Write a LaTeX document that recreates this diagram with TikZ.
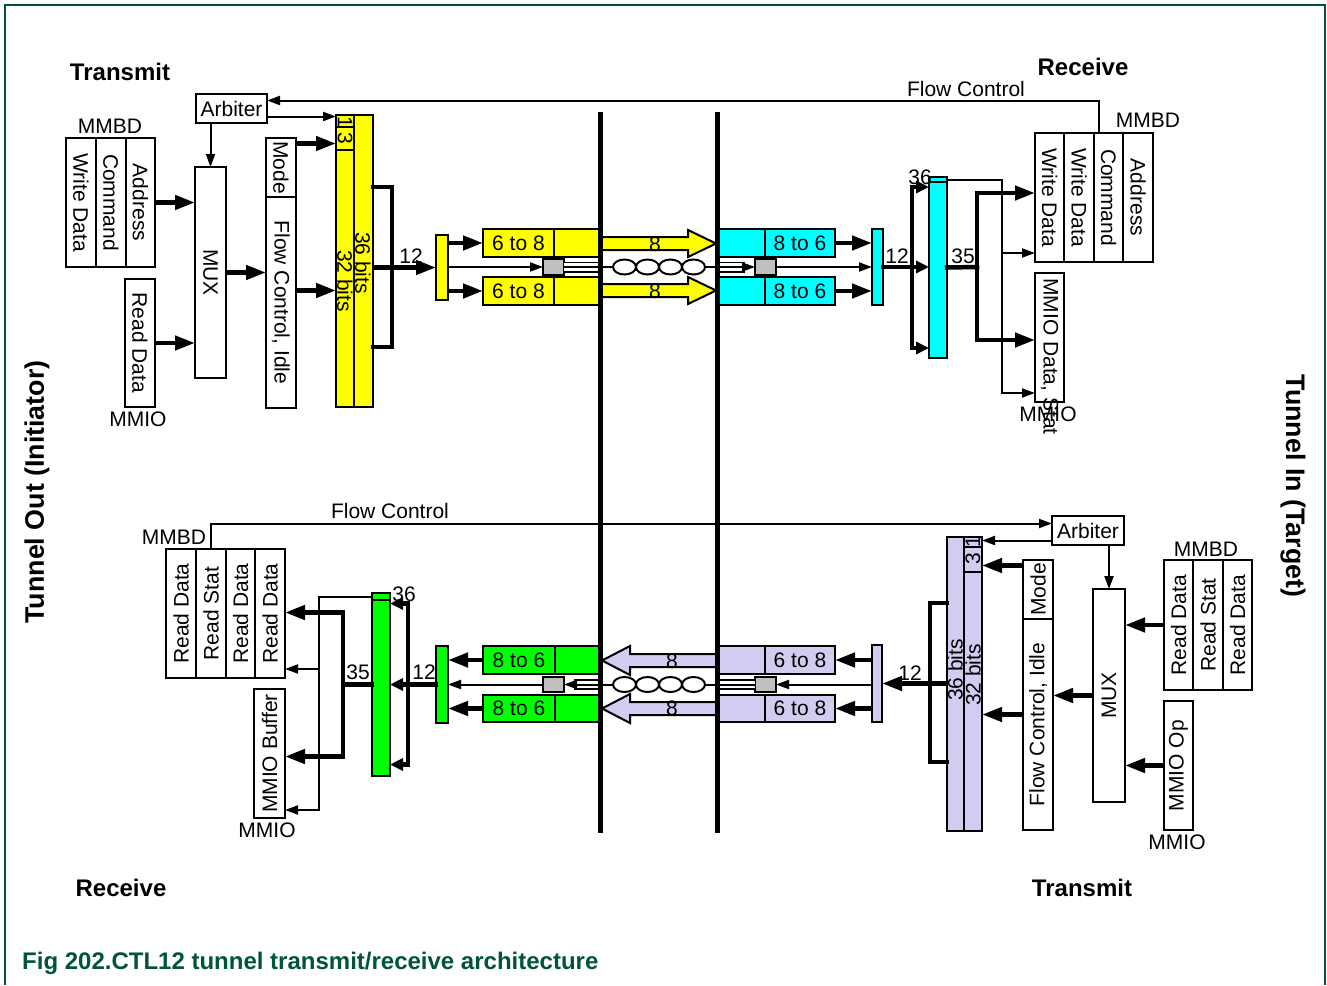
\documentclass[tikz,border=0pt]{standalone}
\usepackage{fontspec}
\setmainfont{Liberation Sans}
\usetikzlibrary{arrows.meta}

\definecolor{figgreen}{RGB}{0,84,60}
\definecolor{txyellow}{RGB}{255,255,0}
\definecolor{rxcyan}{RGB}{0,255,255}
\definecolor{rxgreen}{RGB}{0,255,0}
\definecolor{txlilac}{RGB}{212,204,240}
\definecolor{padgray}{RGB}{192,192,192}

\newcommand\nfont{\fontsize{21}{23}\selectfont}
\newcommand\hfont{\fontsize{24}{26}\selectfont\bfseries}
\newcommand\rotdn[1]{\rotatebox{-90}{#1}}
\newcommand\rotup[1]{\rotatebox{90}{#1}}

\tikzset{
  box/.style={draw, line width=2.2pt, inner sep=0pt, outer sep=0pt, anchor=north west, font=\nfont},
  wh/.style 2 args={minimum width=#1, minimum height=#2},
  lbl/.style={inner sep=0pt, font=\nfont},
  hdr/.style={inner sep=0pt, font=\hfont},
  bus/.style={line width=4.5pt, -{Triangle[length=20pt,width=14pt]}},
  busshort/.style={line width=4.5pt, -{Triangle[length=13pt,width=12pt]}},
  busline/.style={line width=4.5pt, line cap=rect},
  sig/.style={line width=2pt, -{Triangle[length=13pt,width=9pt]}},
  cable/.style={double, double distance=7.8pt, line width=1.6pt},
  lane/.style={line width=2pt},
  twist/.style={line width=2pt, fill=white},
}

\begin{document}
\begin{tikzpicture}[x=1pt, y=-1pt]
\useasboundingbox (0,0) rectangle (1327,985);

\draw[figgreen, line width=1.5pt] (5,985) -- (5,5) -- (1325,5) -- (1325,985);

\node[hdr] at (120,72) {Transmit};
\node[hdr] at (1083,67) {Receive};
\node[hdr] at (121,888) {Receive};
\node[hdr] at (1082,888) {Transmit};
\node[hdr, font=\fontsize{26.8}{28}\selectfont\bfseries, rotate=90] at (37,492) {Tunnel Out (Initiator)};
\node[hdr, font=\fontsize{26.8}{28}\selectfont\bfseries, rotate=-90] at (1293,486) {Tunnel In (Target)};
\node[hdr, text=figgreen, anchor=west] at (22,963) {Fig 202.CTL12 tunnel transmit/receive architecture};

\coordinate (bar-l) at (600,112);
\coordinate (bar-r) at (717,112);

% ---- tunnel out, transmit
\node[box, wh={30}{129}] (otx-wdata) at (66,138) {\rotdn{Write Data}};
\node[box, wh={30}{129}] (otx-cmd) at (96,138) {\rotdn{Command}};
\node[box, wh={29}{129}] (otx-addr) at (126,138) {\rotdn{Address}};
\node[lbl] at (110,126) {MMBD};
\node[box, wh={30}{128}] (otx-rdata) at (125,279) {\rotdn{Read Data}};
\node[lbl] at (138,419) {MMIO};
\node[box, wh={71}{29}] (otx-arb) at (196,94) {Arbiter};
\node[box, wh={31}{211}] (otx-mux) at (195,167) {\rotdn{MUX}};
\node[box, wh={30}{59}] (otx-mode) at (266,138) {\rotdn{Mode}};
\node[box, wh={30}{211}] (otx-flow) at (266,197) {\rotdn{Flow Control, Idle}};

\node[box, fill=txyellow, wh={19}{292}] (otx-r36) at (354,115) {};
\node[box, fill=txyellow, wh={18}{12}] (otx-c1) at (336,115) {};
\node[box, fill=txyellow, wh={18}{23}] (otx-c3) at (336,127) {};
\node[box, fill=txyellow, wh={18}{257}] (otx-r32) at (336,150) {};
\node[lbl, rotate=-90] at (345,122) {1};
\node[lbl, rotate=-90] at (345,138) {3};
\node[lbl, rotate=-90] at (363,263) {36 bits};
\node[lbl, rotate=-90] at (345,281) {32 bits};

\node[box, fill=txyellow, wh={12}{65}] (otx-ser) at (436,235) {};
\node[box, fill=txyellow, wh={71}{28}] (otx-enc1) at (483,229) {6 to 8};
\node[box, fill=txyellow, wh={46}{28}] (otx-out1) at (554,229) {};
\node[box, fill=txyellow, wh={71}{28}] (otx-enc2) at (483,277) {6 to 8};
\node[box, fill=txyellow, wh={46}{28}] (otx-out2) at (554,277) {};
\node[box, fill=padgray, wh={21}{16}] (otx-sq) at (543,259) {};

\draw[sig] (otx-mux.north |- otx-arb.south) -- (otx-mux.north);
\draw[sig] ([yshift=-8pt]otx-arb.east) -- ([yshift=-8pt]otx-arb.east -| otx-c1.west);
\draw[bus] (otx-addr.east) -- (otx-addr.east -| otx-mux.west);
\draw[bus] (otx-rdata.east) -- (otx-rdata.east -| otx-mux.west);
\draw[bus] (otx-mux.east) -- (otx-mux.east -| otx-flow.west);
\draw[bus] ([yshift=-5pt]otx-c3.west -| otx-mode.east) -- ([yshift=-5pt]otx-c3.west);
\draw[bus] ([yshift=12pt]otx-flow.east) -- ([yshift=12pt]otx-flow.east -| otx-r32.west);

\coordinate (otx-fork) at (392,267.5);
\draw[busline] ([yshift=74pt]otx-r36.east) -| (otx-fork) |- ([yshift=-86pt]otx-r36.east);
\draw[bus] (otx-r36.east |- otx-ser.west) -- (otx-ser.west);
\node[lbl] at (411,256) {12};
\draw[bus] (otx-ser.east |- otx-enc1.west) -- (otx-enc1.west);
\draw[bus] (otx-ser.east |- otx-enc2.west) -- (otx-enc2.west);
\draw[sig] (otx-ser.east |- otx-sq.west) -- (otx-sq.west);

\filldraw[fill=txyellow, lane] (600,237) -- (688,237) -- (688,230) -- (716,243.5) -- (688,257) -- (688,250) -- (600,250) -- cycle;
\node[lbl] at (655,244) {8};
\filldraw[fill=txyellow, lane] (600,284) -- (688,284) -- (688,277) -- (716,290.5) -- (688,304) -- (688,297) -- (600,297) -- cycle;
\node[lbl] at (655,291) {8};

% ---- tunnel in, receive
\node[box, fill=rxcyan, wh={48}{28}] (irx-in1) at (717,229) {};
\node[box, fill=rxcyan, wh={70}{28}] (irx-dec1) at (765,229) {8 to 6};
\node[box, fill=rxcyan, wh={48}{28}] (irx-in2) at (717,277) {};
\node[box, fill=rxcyan, wh={70}{28}] (irx-dec2) at (765,277) {8 to 6};
\node[box, fill=padgray, wh={21}{16}] (irx-sq) at (755,259) {};
\node[box, fill=rxcyan, wh={11}{76}] (irx-des) at (872,229) {};
\node[box, fill=rxcyan, wh={18}{181}] (irx-reg) at (929,177) {};
\node[box, fill=rxcyan, wh={18}{5}] (irx-top) at (929,177) {};

\node[box, wh={29}{129}] (irx-wd1) at (1035,133) {\rotdn{Write Data}};
\node[box, wh={30}{129}] (irx-wd2) at (1064,133) {\rotdn{Write Data}};
\node[box, wh={29}{129}] (irx-cmd) at (1094,133) {\rotdn{Command}};
\node[box, wh={30}{129}] (irx-addr) at (1123,133) {\rotdn{Address}};
\node[lbl] at (1148,120) {MMBD};
\node[box, wh={29}{129}] (irx-mmio) at (1035,273) {};
\node[lbl, rotate=-90, anchor=west] at ([yshift=-5pt]irx-mmio.north) {MMIO Data, Stat};
\node[lbl] at (1048,414) {MMIO};

% three-wire link with the twisted pair between the boundaries
\draw[cable] (otx-sq.east) -- (otx-sq.east -| bar-l);
\draw[cable] (irx-sq.west -| bar-r) -- ([xshift=-10pt]irx-sq.west);
\draw[sig] (otx-sq.east) -- (irx-sq.west);
\foreach \x in {624.5,647.5,670.5,693.5}
  \draw[twist] (\x,267) ellipse [x radius=11.5, y radius=7.5];

\draw[sig] (irx-sq.east) -- (irx-sq.east -| irx-des.west);
\draw[bus] (irx-dec1.east) -- (irx-dec1.east -| irx-des.west);
\draw[bus] (irx-dec2.east) -- (irx-dec2.east -| irx-des.west);

\coordinate (irx-fork) at (912,267);
\draw[busline] (irx-des.east) -- (irx-fork);
\node[lbl] at (897,256) {12};
\draw[busline] ([yshift=80pt]irx-fork) -- ([yshift=-81pt]irx-fork);
\draw[busshort] ([yshift=80pt]irx-fork) -- ([yshift=80pt]irx-fork -| irx-reg.west);
\draw[busshort] (irx-fork) -- (irx-fork -| irx-reg.west);
\draw[busshort] ([yshift=-81pt]irx-fork) -- ([yshift=-81pt]irx-fork -| irx-reg.west);
\node[lbl] at (920,177) {36};

\coordinate (irx-fan) at (977,267);
\draw[busline] (irx-reg.east) -- (irx-fan);
\node[lbl] at (963,256) {35};
\draw[busline] ([yshift=74pt]irx-fan) -- ([yshift=-73pt]irx-fan);
\draw[bus] ([yshift=74pt]irx-fan) -- ([yshift=74pt]irx-fan -| irx-wd1.west);
\draw[bus] ([yshift=-73pt]irx-fan) -- ([yshift=-73pt]irx-fan -| irx-mmio.west);

\coordinate (irx-tap) at (1002,393);
\draw[sig] (irx-top.east) -| (irx-tap) -- (irx-tap -| irx-mmio.west);
\draw[sig] ([yshift=140pt]irx-tap) -- ([yshift=140pt]irx-tap -| irx-wd1.west);

\draw[sig] ([xshift=5pt]irx-cmd.north west) |- ([yshift=8pt]otx-arb.east);
\node[lbl] at (966,89) {Flow Control};

% ---- tunnel out, receive
\node[box, wh={30}{129}] (orx-rd1) at (166,549) {\rotup{Read Data}};
\node[box, wh={30}{129}] (orx-rs) at (196,549) {\rotup{Read Stat}};
\node[box, wh={29}{129}] (orx-rd2) at (226,549) {\rotup{Read Data}};
\node[box, wh={30}{129}] (orx-rd3) at (255,549) {\rotup{Read Data}};
\node[lbl] at (174,537) {MMBD};
\node[box, wh={31}{129}] (orx-buf) at (254,689) {\rotup{MMIO Buffer}};
\node[lbl] at (267,830) {MMIO};

\node[box, fill=rxgreen, wh={18}{183}] (orx-reg) at (372,593) {};
\node[box, fill=rxgreen, wh={18}{7}] (orx-top) at (372,593) {};
\node[box, fill=rxgreen, wh={12}{77}] (orx-des) at (436,646) {};
\node[box, fill=rxgreen, wh={72}{28}] (orx-dec1) at (483,646) {8 to 6};
\node[box, fill=rxgreen, wh={45}{28}] (orx-in1) at (555,646) {};
\node[box, fill=rxgreen, wh={72}{27}] (orx-dec2) at (483,695) {8 to 6};
\node[box, fill=rxgreen, wh={45}{27}] (orx-in2) at (555,695) {};
\node[box, fill=padgray, wh={21}{15}] (orx-sq) at (543,677) {};

% ---- tunnel in, transmit
\node[box, fill=txlilac, wh={48}{28}] (itx-out1) at (717,646) {};
\node[box, fill=txlilac, wh={70}{28}] (itx-enc1) at (765,646) {6 to 8};
\node[box, fill=txlilac, wh={48}{27}] (itx-out2) at (717,695) {};
\node[box, fill=txlilac, wh={70}{27}] (itx-enc2) at (765,695) {6 to 8};
\node[box, fill=padgray, wh={21}{15}] (itx-sq) at (755,677) {};
\node[box, fill=txlilac, wh={10}{77}] (itx-ser) at (872,645) {};

\node[box, fill=txlilac, wh={17}{294}] (itx-r36) at (947,537) {};
\node[box, fill=txlilac, wh={18}{10}] (itx-c1) at (964,537) {};
\node[box, fill=txlilac, wh={18}{25}] (itx-c3) at (964,547) {};
\node[box, fill=txlilac, wh={18}{259}] (itx-r32) at (964,572) {};
\node[lbl, rotate=90] at (973,542) {1};
\node[lbl, rotate=90] at (973,559) {3};
\node[lbl, rotate=90] at (955,670) {36 bits};
\node[lbl, rotate=90] at (973,675) {32 bits};

\node[box, wh={30}{59}] (itx-mode) at (1023,560) {\rotup{Mode}};
\node[box, wh={30}{211}] (itx-flow) at (1023,619) {\rotup{Flow Control, Idle}};
\node[box, wh={32}{213}] (itx-mux) at (1093,589) {\rotup{MUX}};
\node[box, wh={72}{29}] (itx-arb) at (1052,516) {Arbiter};
\node[box, wh={29}{130}] (itx-rd1) at (1164,560) {\rotup{Read Data}};
\node[box, wh={30}{130}] (itx-rs) at (1193,560) {\rotup{Read Stat}};
\node[box, wh={29}{130}] (itx-rd2) at (1223,560) {\rotup{Read Data}};
\node[lbl] at (1206,549) {MMBD};
\node[box, wh={29}{129}] (itx-op) at (1164,701) {\rotup{MMIO Op}};
\node[lbl] at (1177,842) {MMIO};

\draw[sig] (orx-rs.north) |- ([yshift=7pt]itx-arb.west);
\node[lbl] at (390,511) {Flow Control};
\draw[sig] ([yshift=-10pt]itx-arb.west) -- ([yshift=-10pt]itx-arb.west -| itx-c1.east);
\draw[sig] (itx-mux.north |- itx-arb.south) -- (itx-mux.north);
\draw[bus] (itx-rd1.west) -- (itx-rd1.west -| itx-mux.east);
\draw[bus] (itx-op.west) -- (itx-op.west -| itx-mux.east);
\draw[bus] (itx-mux.west) -- (itx-mux.west -| itx-flow.east);
\draw[bus] ([yshift=-6pt]itx-c3.east -| itx-mode.west) -- ([yshift=-6pt]itx-c3.east);
\draw[bus] ([yshift=10pt]itx-flow.west) -- ([yshift=10pt]itx-flow.west -| itx-r32.east);

\coordinate (itx-fork) at (930,683.5);
\draw[busline] ([yshift=81pt]itx-r36.west) -| (itx-fork) |- ([yshift=-78pt]itx-r36.west);
\draw[bus] (itx-r36.west |- itx-ser.east) -- (itx-ser.east);
\node[lbl] at (910,673) {12};
\draw[bus] (itx-ser.west |- itx-enc1.east) -- (itx-enc1.east);
\draw[bus] (itx-ser.west |- itx-enc2.east) -- (itx-enc2.east);
\draw[sig] (itx-ser.west |- itx-sq.east) -- (itx-sq.east);

\filldraw[fill=txlilac, lane] (717,654) -- (630,654) -- (630,646) -- (602,660.5) -- (630,675) -- (630,667) -- (717,667) -- cycle;
\node[lbl] at (672,661) {8};
\filldraw[fill=txlilac, lane] (717,702) -- (630,702) -- (630,694) -- (602,708.5) -- (630,723) -- (630,715) -- (717,715) -- cycle;
\node[lbl] at (672,708) {8};

\draw[cable] (itx-sq.west) -- (itx-sq.west -| bar-r);
\draw[cable] (orx-sq.east -| bar-l) -- ([xshift=10pt]orx-sq.east);
\draw[sig] (itx-sq.west) -- (orx-sq.east);
\foreach \x in {624.5,647.5,670.5,693.5}
  \draw[twist] (\x,684.5) ellipse [x radius=11.5, y radius=7.5];

\draw[sig] (orx-sq.west) -- (orx-sq.west -| orx-des.east);
\draw[bus] (orx-dec1.west) -- (orx-dec1.west -| orx-des.east);
\draw[bus] (orx-dec2.west) -- (orx-dec2.west -| orx-des.east);

\coordinate (orx-fork) at (408,684.5);
\draw[busline] (orx-des.west) -- (orx-fork);
\node[lbl] at (424,672) {12};
\draw[busline] ([yshift=81pt]orx-fork) -- ([yshift=-80pt]orx-fork);
\draw[busshort] ([yshift=81pt]orx-fork) -- ([yshift=81pt]orx-fork -| orx-reg.east);
\draw[busshort] (orx-fork) -- (orx-fork -| orx-reg.east);
\draw[busshort] ([yshift=-80pt]orx-fork) -- ([yshift=-80pt]orx-fork -| orx-reg.east);
\node[lbl] at (404,594) {36};

\coordinate (orx-fan) at (343,684.5);
\draw[busline] (orx-reg.west) -- (orx-fan);
\node[lbl] at (358,672) {35};
\draw[busline] ([yshift=72pt]orx-fan) -- ([yshift=-72pt]orx-fan);
\draw[bus] ([yshift=72pt]orx-fan) -- ([yshift=72pt]orx-fan -| orx-rd3.east);
\draw[bus] ([yshift=-72pt]orx-fan) -- ([yshift=-72pt]orx-fan -| orx-buf.east);

\coordinate (orx-tap) at (319,810);
\draw[sig] (orx-top.west) -| (orx-tap) -- (orx-tap -| orx-buf.east);
\draw[sig] ([yshift=141pt]orx-tap) -- ([yshift=141pt]orx-tap -| orx-rd3.east);

% link boundary
\draw[line width=5pt] (bar-l) -- (600,833);
\draw[line width=5pt] (bar-r) -- (717,833);

\end{tikzpicture}
\end{document}
